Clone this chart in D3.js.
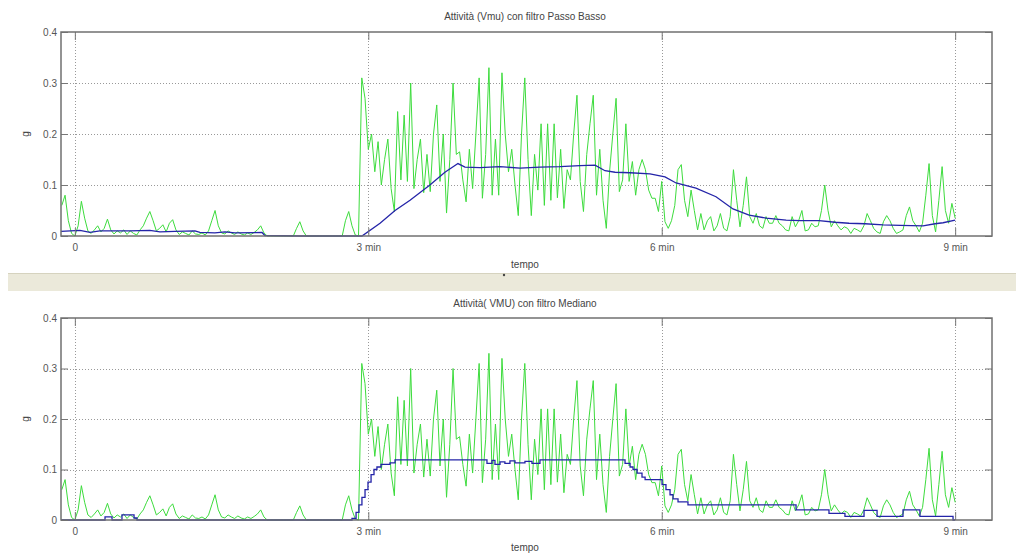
<!DOCTYPE html>
<html>
<head>
<meta charset="utf-8">
<script src="https://cdn.jsdelivr.net/npm/d3@7"></script>
<style>
  body { margin: 0; background: #fff; }
  svg { display: block; font-family: "Liberation Sans", Arial, sans-serif; }
  .tick text { fill: #555; font-size: 10px; }
  .tick line { stroke: #777; }
  .grid line { stroke: #999; stroke-dasharray: 1,2; }
</style>
</head>
<body>
<script>
// accelerometer activity, sampled every 2 s starting at -8 s
var startSec = -8, stepSec = 2;
var rawValues = [
  0.06, 0.08, 0.03, 0.005, 0.0, 0.02, 0.068, 0.035, 0.01, 0.005,
  0.012, 0.02, 0.008, 0.015, 0.033, 0.012, 0.004, 0.01, 0.006, 0.012,
  0.003, 0.01, 0.005, 0.002, 0.012, 0.02, 0.035, 0.048, 0.03, 0.01,
  0.015, 0.022, 0.008, 0.025, 0.032, 0.012, 0.003, 0.008, 0.005, 0.002,
  0.01, 0.004, 0.003, 0.006, 0.002, 0.01, 0.03, 0.05, 0.02, 0.006,
  0.004, 0.01, 0.006, 0.003, 0.008, 0.004, 0.002, 0.006, 0.003, 0.007,
  0.012, 0.02, 0.006, 0.0, 0.0, 0.0, 0.0, 0.0, 0.0, 0.0,
  0.0, 0.0, 0.015, 0.028, 0.01, 0.0, 0.0, 0.0, 0.0, 0.0,
  0.0, 0.0, 0.0, 0.0, 0.0, 0.0, 0.0, 0.03, 0.048, 0.02,
  0.002, 0.0, 0.31, 0.27, 0.17, 0.2, 0.126, 0.185, 0.1, 0.15,
  0.19, 0.093, 0.048, 0.244, 0.11, 0.237, 0.107, 0.30, 0.093, 0.15,
  0.19, 0.085, 0.16, 0.087, 0.2, 0.257, 0.107, 0.2, 0.045, 0.15,
  0.30, 0.16, 0.165, 0.11, 0.067, 0.17, 0.093, 0.2, 0.31, 0.074,
  0.16, 0.33, 0.08, 0.19, 0.08, 0.32, 0.2, 0.126, 0.17, 0.1,
  0.04, 0.2, 0.31, 0.15, 0.04, 0.16, 0.09, 0.22, 0.06, 0.22,
  0.07, 0.22, 0.075, 0.17, 0.054, 0.13, 0.11, 0.2, 0.276, 0.107,
  0.048, 0.16, 0.22, 0.276, 0.08, 0.17, 0.07, 0.015, 0.126, 0.2,
  0.27, 0.087, 0.11, 0.22, 0.107, 0.146, 0.08, 0.13, 0.15, 0.13,
  0.09, 0.074, 0.074, 0.048, 0.107, 0.028, 0.015, 0.03, 0.06, 0.13,
  0.14, 0.07, 0.038, 0.09, 0.05, 0.012, 0.044, 0.012, 0.03, 0.038,
  0.01, 0.02, 0.044, 0.015, 0.01, 0.038, 0.13, 0.07, 0.018, 0.06,
  0.116, 0.038, 0.025, 0.044, 0.02, 0.015, 0.038, 0.025, 0.025, 0.04,
  0.025, 0.02, 0.012, 0.01, 0.038, 0.018, 0.03, 0.05, 0.01, 0.012,
  0.025, 0.018, 0.02, 0.05, 0.1, 0.05, 0.018, 0.03, 0.02, 0.012,
  0.018, 0.015, 0.005, 0.015, 0.012, 0.008, 0.02, 0.044, 0.03, 0.015,
  0.008, 0.005, 0.028, 0.04, 0.03, 0.015, 0.005, 0.008, 0.012, 0.04,
  0.057, 0.03, 0.02, 0.008, 0.025, 0.08, 0.142, 0.04, 0.008, 0.07,
  0.136, 0.05, 0.025, 0.064, 0.035
];

// low pass filtered (top panel)
var lpTime = [-8.5, 3.1, 9.3, 15.4, 33.8, 46.0, 52.2, 61.4, 73.7, 76.7,
  85.9, 92.1, 98.2, 114.8, 116.6, 138.1, 176.1, 187.2, 196.4, 205.6,
  217.8, 227.0, 235.0, 239.3, 248.5, 260.8, 273.1, 285.3, 297.6, 309.9,
  319.1, 325.2, 331.4, 340.6, 352.8, 362.0, 368.8, 381.0, 393.3, 403.7,
  413.6, 424.0, 436.3, 444.8, 456.5, 466.3, 474.9, 484.7, 495.8, 506.2,
  520.3, 527.7, 532.6, 540.0];
var lpValues = [0.009, 0.011, 0.007, 0.01, 0.01, 0.011, 0.008, 0.009, 0.01, 0.007,
  0.006, 0.008, 0.006, 0.007, 0.001, 0.0, 0.0, 0.025, 0.05, 0.07,
  0.1, 0.125, 0.142, 0.135, 0.134, 0.136, 0.133, 0.135, 0.136, 0.138,
  0.139, 0.128, 0.125, 0.124, 0.122, 0.116, 0.104, 0.094, 0.077, 0.053,
  0.041, 0.035, 0.031, 0.03, 0.03, 0.027, 0.025, 0.024, 0.022, 0.021,
  0.02, 0.024, 0.026, 0.031];

// median filtered (bottom panel), value held until next time
var medTime = [-8.5, 18.5, 22.8, 28.9, 36.3, 38.1, 170.0, 172.5, 174.3, 176.1,
  178.0, 179.8, 181.7, 183.5, 185.3, 187.8, 193.3, 196.4, 252.8, 255.9,
  257.7, 260.8, 263.8, 266.9, 270.0, 276.1, 280.4, 285.3, 337.5, 340.6,
  342.4, 344.9, 347.9, 349.8, 360.2, 362.6, 365.1, 366.9, 370.0, 376.1,
  442.4, 462.6, 472.4, 484.1, 492.1, 508.0, 518.4, 538.7, 540.0];
var medValues = [0.0, 0.006, 0.0, 0.01, 0.004, 0.0, 0.003, 0.015, 0.03, 0.045,
  0.06, 0.075, 0.09, 0.1, 0.105, 0.11, 0.113, 0.119, 0.112, 0.118,
  0.11, 0.115, 0.112, 0.117, 0.113, 0.116, 0.112, 0.119, 0.112, 0.105,
  0.1, 0.093, 0.085, 0.08, 0.07, 0.06, 0.05, 0.042, 0.036, 0.03,
  0.02, 0.013, 0.007, 0.019, 0.007, 0.02, 0.007, 0.0, 0.0];

var xTicks = [0, 180, 360, 540];
var xTickLabels = ["0", "3 min", "6 min", "9 min"];
var yTicks = [0, 0.1, 0.2, 0.3, 0.4];
var yTickLabels = ["0", "0.1", "0.2", "0.3", "0.4"];
var titles = ["Attività (Vmu) con filtro Passo Basso", "Attività( VMU) con filtro Mediano"];

var width = 1016, height = 555;
var left = 61, right = 992;

var svg = d3.select("body").append("svg")
    .attr("width", width)
    .attr("height", height);

var x = d3.scaleLinear().domain([-8.5, 562.6]).range([left, right]);

var raw = rawValues.map(function(v, i) { return { t: startSec + i * stepSec, v: v }; });
var lp = lpTime.map(function(t, i) { return { t: t, v: lpValues[i] }; });
var med = medTime.map(function(t, i) { return { t: t, v: medValues[i] }; });

// splitter band between the two panels
svg.append("rect").attr("x", 8).attr("y", 273).attr("width", width - 8).attr("height", 18)
  .attr("fill", "#ebe9da");
svg.append("line").attr("x1", 8).attr("x2", width).attr("y1", 273.5).attr("y2", 273.5)
  .attr("stroke", "#d6d3bf");
svg.append("circle").attr("cx", 504).attr("cy", 275).attr("r", 1.2).attr("fill", "#444");

var panels = [
  { top: 32, bottom: 236, title: titles[0], titleY: 20, labelY: 268, filtered: lp, curve: d3.curveLinear },
  { top: 318, bottom: 520, title: titles[1], titleY: 307, labelY: 551, filtered: med, curve: d3.curveStepAfter }
];

panels.forEach(function(p) {
  var y = d3.scaleLinear().domain([0, 0.4]).range([p.bottom, p.top]);
  var g = svg.append("g");

  // grid
  g.append("g").attr("class", "grid")
    .selectAll("line").data(yTicks.slice(1, 4)).enter().append("line")
      .attr("x1", left).attr("x2", right)
      .attr("y1", function(d) { return Math.round(y(d)) + 0.5; })
      .attr("y2", function(d) { return Math.round(y(d)) + 0.5; });
  g.append("g").attr("class", "grid")
    .selectAll("line").data(xTicks).enter().append("line")
      .attr("x1", function(d) { return Math.round(x(d)) + 0.5; })
      .attr("x2", function(d) { return Math.round(x(d)) + 0.5; })
      .attr("y1", p.top).attr("y2", p.bottom);

  // signals
  var line = d3.line()
    .x(function(d) { return x(d.t); })
    .y(function(d) { return y(d.v); });

  g.append("path").datum(raw)
    .attr("d", line)
    .attr("fill", "none")
    .attr("stroke", "#3ddc3d")
    .attr("stroke-width", 1);

  g.append("path").datum(p.filtered)
    .attr("d", line.curve(p.curve))
    .attr("fill", "none")
    .attr("stroke", "#2424a8")
    .attr("stroke-width", 1.3);

  // axes, ticks pointing inwards
  g.append("g").attr("transform", "translate(" + left + ",0)")
    .call(d3.axisLeft(y).tickValues(yTicks).tickFormat(function(d, i) { return yTickLabels[i]; })
      .tickSize(-7).tickPadding(4))
    .call(function(a) { a.select(".domain").remove(); });
  g.append("g").attr("transform", "translate(" + right + ",0)")
    .call(d3.axisRight(y).tickValues(yTicks).tickFormat("").tickSize(-7))
    .call(function(a) { a.select(".domain").remove(); });
  g.append("g").attr("transform", "translate(0," + p.bottom + ")")
    .call(d3.axisBottom(x).tickValues(xTicks).tickFormat(function(d, i) { return xTickLabels[i]; })
      .tickSize(-8).tickPadding(8))
    .call(function(a) { a.select(".domain").remove(); });
  g.append("g").attr("transform", "translate(0," + p.top + ")")
    .call(d3.axisTop(x).tickValues(xTicks).tickFormat("").tickSize(-8))
    .call(function(a) { a.select(".domain").remove(); });

  // box
  g.append("rect")
    .attr("x", left).attr("y", p.top)
    .attr("width", right - left).attr("height", p.bottom - p.top)
    .attr("fill", "none").attr("stroke", "#707070").attr("stroke-width", 1.5);

  g.append("text")
    .attr("x", 525).attr("y", p.titleY)
    .attr("text-anchor", "middle")
    .attr("font-size", 10).attr("fill", "#444")
    .text(p.title);

  g.append("text")
    .attr("x", 525).attr("y", p.labelY)
    .attr("text-anchor", "middle")
    .attr("font-size", 10).attr("fill", "#444")
    .text("tempo");

  g.append("text")
    .attr("transform", "translate(29," + y(0.2) + ") rotate(-90)")
    .attr("text-anchor", "middle")
    .attr("font-size", 10).attr("fill", "#444")
    .text("g");
});
</script>
</body>
</html>
